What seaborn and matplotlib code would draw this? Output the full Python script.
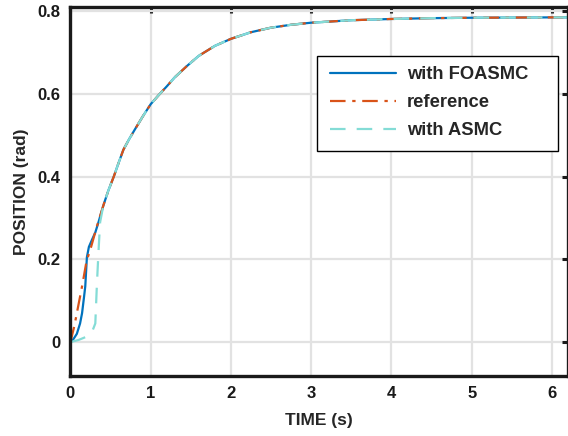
import numpy as np
import pandas as pd
import matplotlib
matplotlib.use("Agg")
import matplotlib.pyplot as plt
from matplotlib.patches import Rectangle
import seaborn as sns

# shared tail of all three responses (they overlap after ~0.4 s)
tail_t = [0.41, 0.47, 0.54, 0.6, 0.66, 0.73, 0.8, 0.9, 1.0, 1.1, 1.2, 1.3, 1.45,
          1.6, 1.8, 2.0, 2.25, 2.5, 2.75, 3.0, 3.5, 4.0, 4.5, 5.0, 6.2]
tail_pos = [0.33, 0.365, 0.40, 0.433, 0.465, 0.49, 0.513, 0.545, 0.575, 0.597,
            0.618, 0.640, 0.667, 0.692, 0.716, 0.733, 0.749, 0.760, 0.767,
            0.772, 0.778, 0.781, 0.783, 0.784, 0.785]

# initial parts
ref_t = [0, 0.05, 0.1, 0.15, 0.2, 0.25, 0.33]
ref_pos = [0, 0.04, 0.09, 0.14, 0.195, 0.225, 0.28]

foasmc_t = [0, 0.04, 0.08, 0.12, 0.145, 0.17, 0.185, 0.195, 0.205, 0.23, 0.27, 0.31, 0.35]
foasmc_pos = [0, 0.008, 0.02, 0.045, 0.07, 0.11, 0.135, 0.17, 0.205, 0.23, 0.248, 0.265, 0.29]

asmc_t = [0, 0.1, 0.2, 0.28, 0.31, 0.33, 0.35, 0.37]
asmc_pos = [0, 0.005, 0.013, 0.03, 0.045, 0.14, 0.22, 0.29]

labels = ["with FOASMC", "reference", "with ASMC"]

sns.set_style("white")
plt.rcParams["font.family"] = ["Liberation Sans", "DejaVu Sans"]
plt.rcParams["font.weight"] = "bold"

fig = plt.figure(figsize=(5.68, 4.36), dpi=100)
ax = fig.add_axes([0.124, 0.1376, 0.876, 0.8464])

ax.grid(True, color="#e2e2e2", linewidth=1.6)
ax.set_axisbelow(True)

sns.lineplot(x=foasmc_t + tail_t, y=foasmc_pos + tail_pos, ax=ax, color="#0072BD",
             linewidth=1.6, label=labels[0], sort=False)
sns.lineplot(x=ref_t + tail_t, y=ref_pos + tail_pos, ax=ax, color="#D95319",
             linewidth=1.6, label=labels[1], sort=False, dashes=False)
ax.lines[-1].set_dashes([7, 3, 1.5, 3])
sns.lineplot(x=asmc_t + tail_t, y=asmc_pos + tail_pos, ax=ax, color="#84DCD6",
             linewidth=1.6, label=labels[2], sort=False)
ax.lines[-1].set_dashes([7, 5])

ax.set_xlim(0, 6.2)
ax.set_ylim(-0.082, 0.81)
ax.set_xticks(range(0, 7))
ax.set_yticks([0, 0.2, 0.4, 0.6, 0.8])
ax.set_yticklabels(["0", "0.2", "0.4", "0.6", "0.8"])

for s in ax.spines.values():
    s.set_visible(True)
    s.set_linewidth(2.4)
    s.set_color("#1a1a1a")
ax.tick_params(direction="in", length=4, width=2.2, labelsize=12, pad=7,
               top=True, right=True, colors="#1a1a1a")
for lab in ax.get_xticklabels() + ax.get_yticklabels():
    lab.set_fontweight("bold")

ax.set_xlabel("TIME (s)", fontsize=12.5, fontweight="bold", labelpad=9)
ax.set_ylabel("POSITION (rad)", fontsize=12.5, fontweight="bold", labelpad=6)

# legend without its own frame, box drawn like the MATLAB one
leg = ax.legend(loc="upper left", bbox_to_anchor=(330 / 568, 1 - 66 / 436),
                bbox_transform=fig.transFigure, fontsize=13.2, frameon=False,
                handlelength=3.6, handletextpad=0.6, labelspacing=0.6,
                borderpad=0, borderaxespad=0)
for t in leg.get_texts():
    t.set_fontweight("bold")
leg.set_zorder(6)
ax.add_patch(Rectangle((317 / 568, 1 - 151 / 436), 241 / 568, 95 / 436,
                       transform=fig.transFigure, facecolor="white",
                       edgecolor="black", linewidth=1.0, zorder=5, clip_on=False))

fig.savefig("out.png", dpi=100)
